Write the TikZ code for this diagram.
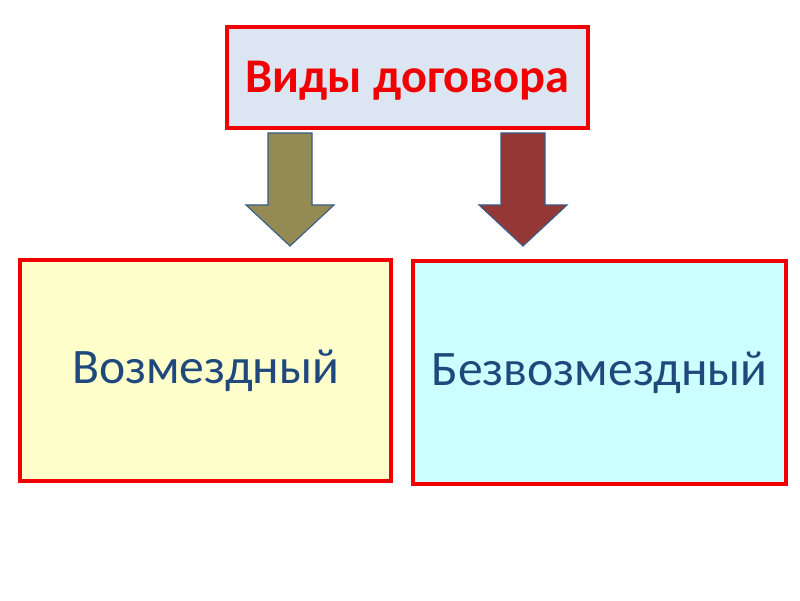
\documentclass[tikz,border=0pt]{standalone}
\usepackage{fontspec}
\setmainfont{Carlito}
\usepackage{tikz}
\usetikzlibrary{positioning}
\definecolor{boxred}{RGB}{240,0,0}
\definecolor{headfill}{RGB}{220,230,242}
\definecolor{paidfill}{RGB}{255,255,204}
\definecolor{freefill}{RGB}{204,255,255}
\definecolor{textblue}{RGB}{31,73,125}
\definecolor{arrowolive}{RGB}{148,138,84}
\definecolor{arrowred}{RGB}{149,55,53}
\definecolor{arrowedge}{RGB}{56,93,138}

\begin{document}
\begin{tikzpicture}[
  kind/.style={draw=boxred,line width=3pt,align=center,font=\fontsize{35.3}{40}\selectfont,
               text=textblue,inner sep=0pt},
  blockarr/.style={draw=arrowedge,line width=0.8pt,line join=miter}
]
  \fill[white] (0,0) rectangle (20,15);
  \useasboundingbox (0,0) rectangle (20,15);

  \node[kind,fill=headfill,minimum width=9.03cm,minimum height=2.53cm,text=boxred,
        font=\bfseries\fontsize{34.4}{40}\selectfont] (types) at (10.19,13.06) {};
  \node[text=boxred,font=\bfseries\fontsize{34.4}{40}\selectfont,inner sep=0pt]
    (typestext) at ([yshift=-2pt]types.center) {Виды договора};
  \node[kind,fill=paidfill,minimum width=9.28cm,minimum height=5.53cm] (paid) at (5.14,5.74) {Возмездный};
  \node[kind,fill=freefill,minimum width=9.33cm,minimum height=5.58cm] (free) at (14.99,5.69) {Безвозмездный};

  % block arrows
  \foreach \xx/\col in {7.25/arrowolive,13.075/arrowred}
    \draw[blockarr,fill=\col] (\xx-0.55,11.675) -- ++(1.1,0) -- ++(0,-1.8) -- ++(0.55,0)
      -- (\xx,8.85) -- (\xx-1.1,9.875) -- ++(0.55,0) -- cycle;
\end{tikzpicture}
\end{document}
